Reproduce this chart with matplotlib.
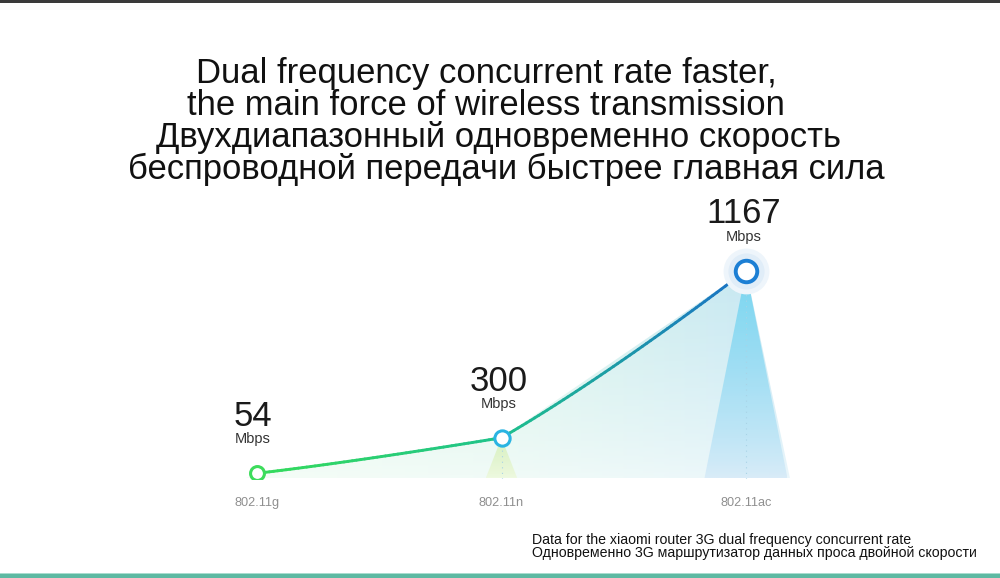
import numpy as np
import matplotlib
matplotlib.use("Agg")
import matplotlib.pyplot as plt
from matplotlib.collections import LineCollection
from matplotlib.colors import LinearSegmentedColormap, to_rgb
from matplotlib.patches import Polygon, Rectangle

plt.rcParams['font.family'] = ['Liberation Sans', 'DejaVu Sans']

# data
standards = ['802.11g', '802.11n', '802.11ac']
rates = [54, 300, 1167]
unit = 'Mbps'
point_colors = ['#3ddc5c', '#2ab4e2', '#1c7fd4']
line_colors = ['#35dc5a', '#1fc28c', '#1a6fc6']
title_lines = ['Dual frequency concurrent rate faster,',
               'the main force of wireless transmission',
               'Двухдиапазонный одновременно скорость',
               'беспроводной передачи быстрее главная сила']
note_lines = ['Data for the xiaomi router 3G dual frequency concurrent rate',
              'Одновременно 3G маршрутизатор данных проса двойной скорости']

W, H = 1000, 578
fig = plt.figure(figsize=(W / 100, H / 100), dpi=100)
fig.patch.set_facecolor('white')

# frame lines top / bottom
fig.add_artist(Rectangle((0, 1 - 3 / H), 1, 3 / H, transform=fig.transFigure,
                         color='#3a3a3a', lw=0))
fig.add_artist(Rectangle((0, 0), 1, 4 / H, transform=fig.transFigure,
                         color='#5db9a2', lw=0))
fig.add_artist(Rectangle((0, 4 / H), 1, 1.5 / H, transform=fig.transFigure,
                         color='#a9dccf', lw=0))

# title
title_x = [486, 486, 499, 506]
for i, t in enumerate(title_lines):
    fig.text(title_x[i] / W, 1 - (73 + 32.3 * i) / H, t, ha='center', va='center',
             fontsize=24.9, color='#111111')

for i, t in enumerate(note_lines):
    fig.text(532 / W, 1 - (544 + 13 * i) / H, t, ha='left', va='baseline',
             fontsize=10.2, color='#111111')

# axes laid out so the scale maps to the picture
p = 1.2
left, right = 134.75, 868.25
bottom, top = 478.5, 200
ax = fig.add_axes([left / W, 1 - bottom / H, (right - left) / W, (bottom - top) / H])
ax.set_yscale('function', functions=(lambda v: np.sign(v) * np.abs(v) ** p,
                                     lambda v: np.sign(v) * np.abs(v) ** (1 / p)))
ymax = ((bottom - top) / 0.0434) ** (1 / p)
ax.set_ylim(0, ymax)
ax.set_xlim(-0.5, 2.5)
ax.set_facecolor('none')
for s in ax.spines.values():
    s.set_visible(False)
ax.set_yticks([])
x = np.arange(len(rates))
ax.set_xticks(x, standards)
ax.tick_params(axis='x', length=0, pad=13, labelsize=9.2, labelcolor='#8f8f8f')

# area under the line: colour green -> blue across, fading to white downwards
area_cmap = LinearSegmentedColormap.from_list('area', ['#e2f9e8', '#d6f3ea', '#c4e6f4'])
nx, ny = 256, 96
img = np.array(area_cmap(np.linspace(0, 1, nx)))[None, :, :].repeat(ny, axis=0)
img[..., 3] = np.linspace(0.35, 1.0, ny)[:, None]
x_end = x[-1] + 0.18
area = Polygon([(x[0] - 0.05, 0), (x[0], rates[0]), (x[1], rates[1]), (x[2], rates[2]),
                (x_end, 0)], closed=True, transform=ax.transData, facecolor='none', lw=0)
ax.add_patch(area)
im = ax.imshow(img, extent=(x[0] - 0.05, x_end, 0, rates[2]), aspect='auto',
               origin='lower', zorder=1, interpolation='bilinear')
im.set_clip_path(area)

# light beams under the points
beam_w = [0.0, 0.065, 0.17]
beam_top = ['#ffffff', '#d4f0b8', '#6ad2f0']
beam_bot = ['#ffffff', '#eef9dc', '#d6eaf8']
for xi, r, bw, ct, cb in zip(x, rates, beam_w, beam_top, beam_bot):
    if bw == 0:
        continue
    tri = Polygon([(xi, r), (xi - bw, 0), (xi + bw, 0)], closed=True,
                  transform=ax.transData, facecolor='none', lw=0)
    ax.add_patch(tri)
    cm = LinearSegmentedColormap.from_list('b', [cb, ct])
    bimg = cm(np.linspace(0, 1, 128).reshape(-1, 1))
    b = ax.imshow(bimg, extent=(xi - bw, xi + bw, 0, r), aspect='auto', origin='lower',
                  zorder=1.5, interpolation='bilinear', alpha=0.85)
    b.set_clip_path(tri)
    ax.plot([xi, xi], [0, r], ls=(0, (1, 4)), color='#a9d3e6', lw=0.8, zorder=1.6)

# gradient line
segs, cols = [], []
for i in range(len(rates) - 1):
    c0, c1 = np.array(to_rgb(line_colors[i])), np.array(to_rgb(line_colors[i + 1]))
    t = np.linspace(0, 1, 60)
    xs = x[i] + (x[i + 1] - x[i]) * t
    ys = rates[i] + (rates[i + 1] - rates[i]) * t
    for k in range(len(t) - 1):
        segs.append([(xs[k], ys[k]), (xs[k + 1], ys[k + 1])])
        cols.append(c0 + (c1 - c0) * (t[k] + t[k + 1]) / 2)
ax.add_collection(LineCollection(segs, colors=cols, linewidths=2.1, zorder=3,
                                 capstyle='round'))

# markers
sizes = [10, 11, 15.5]
for xi, r, c, ms in zip(x, rates, point_colors, sizes):
    if xi == 2:
        ax.plot(xi, r, 'o', ms=33, color='#eef5fb', mec='none', zorder=3.5)
        ax.plot(xi, r, 'o', ms=26, color='#e0edf8', mec='none', zorder=3.6)
    ax.plot(xi, r, 'o', ms=ms, mfc='white', mec=c, mew=2.8 if xi == 2 else 2.2, zorder=4)
    dx = -3 if xi == 0 else -2
    ax.annotate(str(r), (xi, r), xytext=(dx, 34), textcoords='offset points',
                ha='center', va='baseline', fontsize=25, color='#1a1a1a', zorder=5)
    ax.annotate(unit, (xi, r), xytext=(dx, 21.5), textcoords='offset points',
                ha='center', va='baseline', fontsize=10.5, color='#333333', zorder=5)

fig.savefig('out.png', dpi=100, facecolor='white')
